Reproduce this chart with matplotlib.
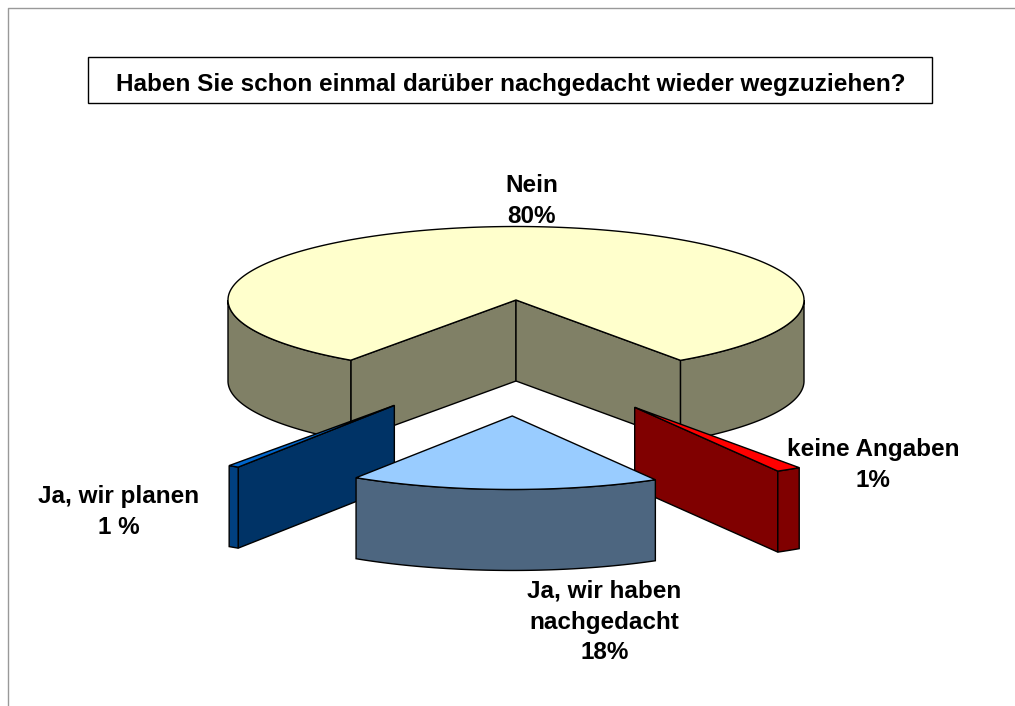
import numpy as np
import matplotlib
matplotlib.use("Agg")
import matplotlib.pyplot as plt
from matplotlib.patches import Polygon, Rectangle

# slices, clockwise on screen starting at the left edge of "Nein"
categories = ["Nein", "keine Angaben", "Ja, wir haben nachgedacht", "Ja, wir planen"]
values = [80.6, 1.4, 17.4, 0.6]
title = "Haben Sie schon einmal darüber nachgedacht wieder wegzuziehen?"
labels = ["Nein\n80%", "keine Angaben\n1%", "Ja, wir haben\nnachgedacht\n18%", "Ja, wir planen\n1 %"]

# styles and layout
top_colors = ["#FFFFCC", "#FF0000", "#99CCFF", "#0066CC"]
side_colors = ["#808066", "#800000", "#4D6680", "#003366"]
wall_colors = ["#808066", "#800000", "#4D6680", "#004080"]
label_pos = [(532, 201), (873, 465), (604.5, 622), (118.7, 512)]
explode_x = [0, 222, 142, 218]
explode_y = [0, 127, 116, 127]
cx, cy = 516, 300
rx, ry = 288, 73.5
depth = 81
start = 125

plt.rcParams["font.family"] = ["Liberation Sans", "DejaVu Sans"]
fig = plt.figure(figsize=(10.15, 7.06), dpi=100)
ax = fig.add_axes([0, 0, 1, 1])
ax.set_xlim(0, 1015)
ax.set_ylim(706, 0)
ax.axis("off")


def arc(x0, y0, t1, t2):
    t = np.radians(np.linspace(t1, t2, max(int(abs(t2 - t1)) * 2, 2)))
    return np.column_stack([x0 + rx * np.cos(t), y0 + ry * np.sin(t)])


def poly(pts, color, z):
    ax.add_patch(Polygon(pts, closed=True, facecolor=color, edgecolor="black",
                         linewidth=1.0, joinstyle="miter", zorder=z))


def draw_slice(t1, t2, top, side, wall, dx, dy, z):
    x0, y0 = cx + dx, cy + dy
    # inner faces
    for t in (t1, t2):
        c = np.cos(np.radians(t))
        if (t == t1 and c < 0) or (t == t2 and c > 0):
            edge = arc(x0, y0, t, t)[:1]
            p = [[x0, y0], edge[0], edge[0] + [0, depth], [x0, y0 + depth]]
            poly(p, side, z)
    # outer wall, only the part that faces the viewer
    for a, b in ((0, 180), (360, 540)):
        lo, hi = max(t1, a), min(t2, b)
        if hi > lo:
            front = arc(x0, y0, lo, hi)
            poly(np.vstack([front, (front + [0, depth])[::-1]]), wall, z)
    poly(np.vstack([[x0, y0], arc(x0, y0, t1, t2)]), top, z + 0.5)


# frame lines and title box
ax.plot([8.5, 8.5, 1015], [706, 7.5, 7.5], color="#999999", lw=1.0, zorder=1)
ax.add_patch(Rectangle((88.5, 56.5), 844, 46, facecolor="white", edgecolor="black",
                       linewidth=1.0, zorder=2))
ax.text(511, 84, title, ha="center", va="center", fontsize=17.5, fontweight="bold", zorder=3)

edges = start + np.cumsum([0] + values) * 3.6
order = [0, 3, 1, 2]
for n, i in enumerate(order):
    draw_slice(edges[i], edges[i + 1], top_colors[i], side_colors[i], wall_colors[i],
               explode_x[i] * np.cos(np.radians((edges[i] + edges[i + 1]) / 2)),
               explode_y[i] * np.sin(np.radians((edges[i] + edges[i + 1]) / 2)),
               5 + n)

for lab, (x, y) in zip(labels, label_pos):
    ax.text(x, y, lab, ha="center", va="center", fontsize=17.5, fontweight="bold",
            linespacing=1.44, zorder=20)

fig.savefig("out.png", dpi=100)
